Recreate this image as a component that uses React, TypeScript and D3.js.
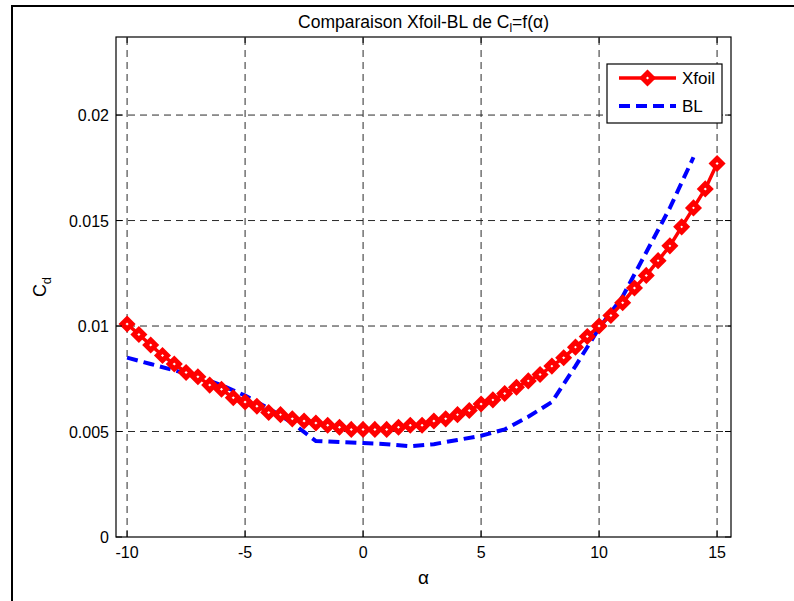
import React from "react";
import * as d3 from "d3";

// Angle of attack (deg) for the Xfoil polar, 0.5 deg steps
const alphaXfoil: number[] = [
  -10, -9.5, -9, -8.5, -8, -7.5, -7, -6.5, -6, -5.5, -5, -4.5, -4, -3.5, -3, -2.5, -2, -1.5, -1, -0.5,
  0, 0.5, 1, 1.5, 2, 2.5, 3, 3.5, 4, 4.5, 5, 5.5, 6, 6.5, 7, 7.5, 8, 8.5, 9, 9.5,
  10, 10.5, 11, 11.5, 12, 12.5, 13, 13.5, 14, 14.5, 15,
];
const cdXfoil: number[] = [
  0.0101, 0.0096, 0.0091, 0.0086, 0.0082, 0.0078, 0.0076, 0.0072, 0.0070, 0.0066, 0.0064, 0.0062, 0.0059, 0.0058,
  0.0056, 0.0055, 0.0054, 0.0053, 0.0052, 0.0051, 0.0051, 0.0051, 0.0051, 0.0052, 0.0053, 0.0053, 0.0055, 0.0056,
  0.0058, 0.0060, 0.0063, 0.0065, 0.0068, 0.0071, 0.0074, 0.0077, 0.0081, 0.0085, 0.0090, 0.0095, 0.0100, 0.0105,
  0.0111, 0.0118, 0.0124, 0.0131, 0.0138, 0.0147, 0.0156, 0.0165, 0.0177,
];

// Boundary-layer code, 1 deg steps
const alphaBL: number[] = [
  -10, -9, -8, -7, -6, -5, -4, -3, -2, -1, 0, 1, 2, 3, 4, 5, 6, 7, 8, 9, 10, 11, 12, 13, 14,
];
const cdBL: number[] = [
  0.0085, 0.0082, 0.0079, 0.0076, 0.0072, 0.0067, 0.0061, 0.0054, 0.00455, 0.0045, 0.00445, 0.0044, 0.0043,
  0.0044, 0.0046, 0.0048, 0.0051, 0.0057, 0.0064, 0.0081, 0.0099, 0.0114, 0.0135, 0.0156, 0.018,
];

const xTicks: number[] = [-10, -5, 0, 5, 10, 15];
const yTicks: number[] = [0, 0.005, 0.01, 0.015, 0.02];
const yTickLabels: string[] = ["0", "0.005", "0.01", "0.015", "0.02"];

const W = 794;
const H = 601;
const left = 116;
const right = 731;
const top = 37;
const bottom = 537;
const FONT = "'Liberation Sans', Arial, sans-serif";

export default function App() {
  const x = d3.scaleLinear().domain([-10.47, 15.59]).range([left, right]);
  const y = d3.scaleLinear().domain([0, 0.0237]).range([bottom, top]);

  const xfoilPts = alphaXfoil.map((a, i) => [a, cdXfoil[i]] as [number, number]);
  const blPts = alphaBL.map((a, i) => [a, cdBL[i]] as [number, number]);
  const line = d3
    .line<[number, number]>()
    .x((d) => x(d[0]))
    .y((d) => y(d[1]));

  const diamond = (cx: number, cy: number, r: number) =>
    `M${cx},${cy - r}L${cx + r},${cy}L${cx},${cy + r}L${cx - r},${cy}Z`;

  const red = "#ff0000";
  const blue = "#0000ff";
  const gridColor = "#2a2a2a";
  const tickLen = 6;
  const markR = 5;
  const markW = 5;

  return (
    <svg
      width={W}
      height={H}
      style={{ position: "absolute", left: 0, top: 0, background: "#fff" }}
      fontFamily={FONT}
    >
      <rect x={0} y={0} width={W} height={H} fill="#fff" />
      {/* figure frame */}
      <rect x={12} y={6} width={W + 20} height={H + 20} fill="none" stroke="#000" strokeWidth={2} />

      {/* grid */}
      {xTicks.map((t) => (
        <line
          key={"gx" + t}
          x1={x(t)}
          x2={x(t)}
          y1={bottom}
          y2={top}
          stroke={gridColor}
          strokeWidth={1}
          strokeDasharray="7,5"
        />
      ))}
      {yTicks.slice(1).map((t) => (
        <line
          key={"gy" + t}
          x1={left}
          x2={right}
          y1={y(t)}
          y2={y(t)}
          stroke={gridColor}
          strokeWidth={1}
          strokeDasharray="7,5"
        />
      ))}

      {/* BL curve */}
      <path
        d={line(blPts) || ""}
        fill="none"
        stroke={blue}
        strokeWidth={4}
        strokeDasharray="11,6"
      />

      {/* Xfoil curve with diamond markers */}
      <path d={line(xfoilPts) || ""} fill="none" stroke={red} strokeWidth={3.5} strokeLinejoin="round" />
      {xfoilPts.map((d, i) => (
        <path
          key={"m" + i}
          d={diamond(x(d[0]), y(d[1]), markR)}
          fill="#fff"
          stroke={red}
          strokeWidth={markW}
          strokeLinejoin="miter"
        />
      ))}

      {/* axes box */}
      <rect x={left} y={top} width={right - left} height={bottom - top} fill="none" stroke="#000" strokeWidth={1.2} />

      {/* ticks */}
      {xTicks.map((t) => (
        <g key={"tx" + t}>
          <line x1={x(t)} x2={x(t)} y1={bottom} y2={bottom - tickLen} stroke="#000" />
          <line x1={x(t)} x2={x(t)} y1={top} y2={top + tickLen} stroke="#000" />
          <text x={x(t)} y={bottom + 21} textAnchor="middle" fontSize={16} fill="#000">
            {t}
          </text>
        </g>
      ))}
      {yTicks.map((t, i) => (
        <g key={"ty" + t}>
          <line x1={left} x2={left + tickLen} y1={y(t)} y2={y(t)} stroke="#000" />
          <line x1={right} x2={right - tickLen} y1={y(t)} y2={y(t)} stroke="#000" />
          <text x={left - 7} y={y(t) + 6} textAnchor="end" fontSize={16} fill="#000">
            {yTickLabels[i]}
          </text>
        </g>
      ))}

      {/* title */}
      <text x={(left + right) / 2} y={28} textAnchor="middle" fontSize={17.5} fill="#000">
        Comparaison Xfoil-BL de C
        <tspan fontSize={12} dy={4}>l</tspan>
        <tspan dy={-4}>=f(α)</tspan>
      </text>

      {/* axis labels */}
      <text x={(left + right) / 2} y={584} textAnchor="middle" fontSize={19} fill="#000">
        α
      </text>
      <text transform={`translate(46, ${(top + bottom) / 2}) rotate(-90)`} textAnchor="middle" fontSize={18} fill="#000">
        C<tspan fontSize={13} dy={5}>d</tspan>
      </text>

      {/* legend */}
      <g>
        <rect x={607} y={64} width={115} height={59} fill="#fff" stroke="#000" strokeWidth={1.2} />
        <line x1={619} x2={676} y1={78} y2={78} stroke={red} strokeWidth={3.5} />
        <path d={diamond(647.5, 78, markR)} fill="#fff" stroke={red} strokeWidth={markW} />
        <text x={682} y={84} fontSize={17} fill="#000">Xfoil</text>
        <line x1={619} x2={676} y1={106} y2={106} stroke={blue} strokeWidth={4} strokeDasharray="11,6" />
        <text x={682} y={112} fontSize={17} fill="#000">BL</text>
      </g>
    </svg>
  );
}
